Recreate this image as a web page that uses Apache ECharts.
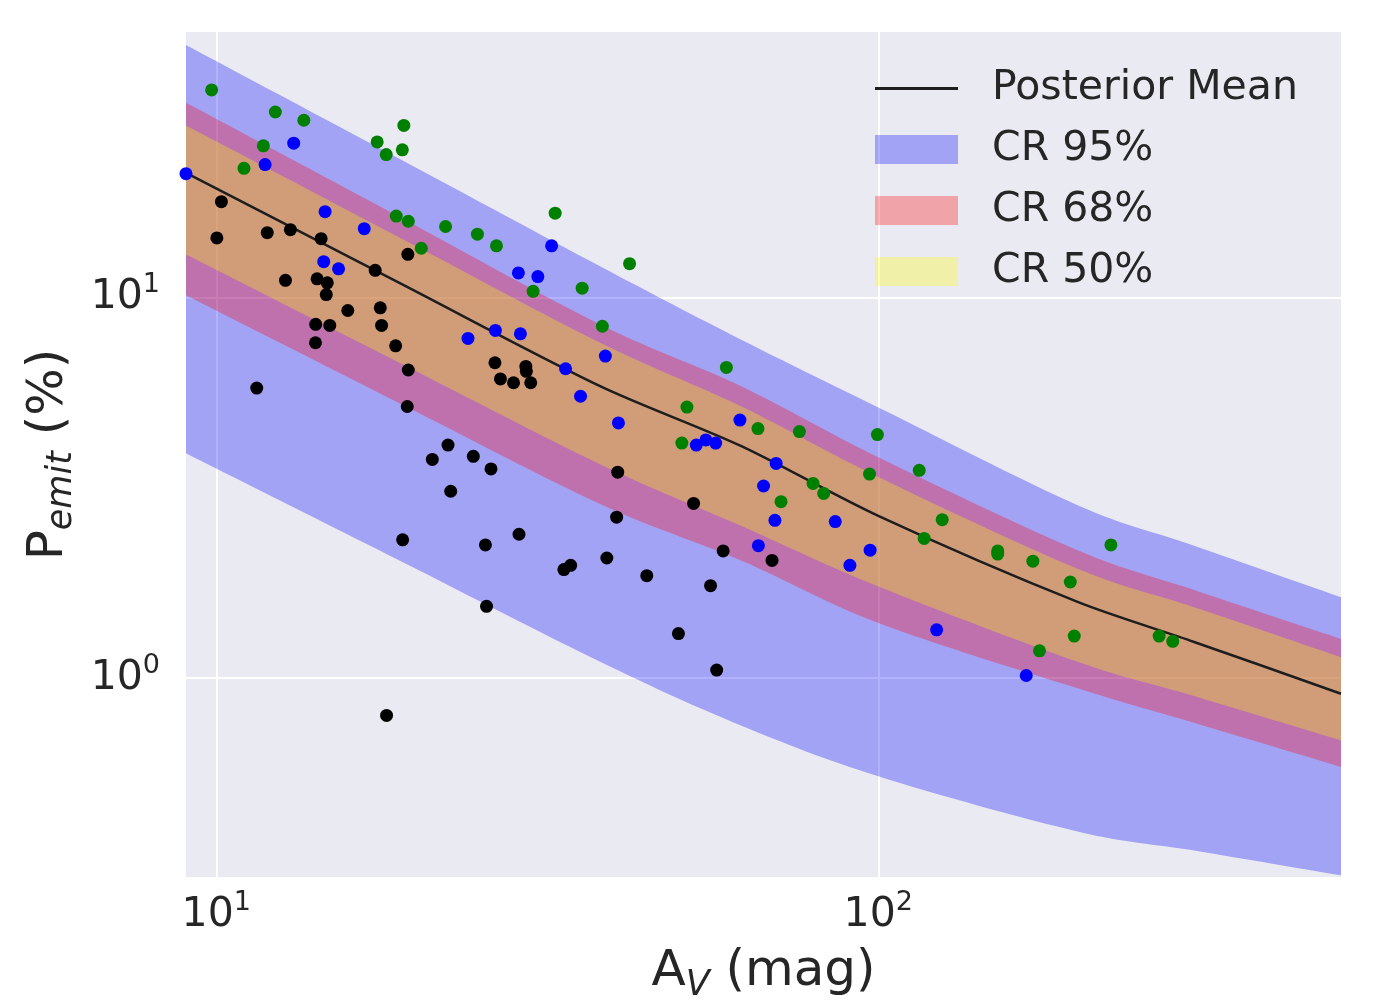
<!DOCTYPE html>
<html>
<head>
<meta charset="utf-8">
<title>Pemit vs AV</title>
<script src="https://cdn.jsdelivr.net/npm/echarts@6.0.0/dist/echarts.min.js"></script>
<style>
  html, body { margin: 0; padding: 0; background: #fff; }
  #main { width: 1380px; height: 1000px; }
</style>
</head>
<body>
<div id="main"></div>
<script>
// posterior curves, sampled along A_V (mag)
var bandAv = [9, 19, 38, 62, 100, 200, 300, 500];
var meanP  = [21.3, 10.9, 5.86, 4.08, 2.67, 1.586, 1.245, 0.910];
var cr95Lo = [3.90, 2.03, 1.104, 0.751, 0.552, 0.395, 0.352, 0.303];
var cr95Hi = [46.2, 23.1, 12.1, 7.77, 5.15, 2.85, 2.23, 1.632];
var cr68Lo = [10.16, 5.26, 2.87, 2.04, 1.397, 0.940, 0.763, 0.584];
var cr68Hi = [32.6, 16.25, 8.51, 5.86, 3.81, 2.17, 1.705, 1.268];
var cr50Lo = [13.0, 6.72, 3.65, 2.515, 1.742, 1.104, 0.897, 0.686];
var cr50Hi = [28.4, 14.35, 7.62, 5.19, 3.38, 1.94, 1.537, 1.135];

// observed sources (A_V, P_emit %)
var greenAv = [9.84, 12.28, 13.56, 11.78, 11.01, 19.2, 17.5, 19.1, 18.06, 18.7, 19.5, 20.4, 22.2, 24.8,
  26.5, 32.5, 42.1, 30.1, 35.7, 38.3, 58.96, 51.4, 65.8, 76.0, 99.7, 50.5, 97.0, 115.3, 79.7, 82.7,
  71.3, 124.9, 117.3, 151.5, 151.5, 171.2, 195.0, 197.7, 175.2, 224.6, 265.6, 278.5];
var greenP = [35.2, 30.8, 29.3, 25.1, 21.9, 28.4, 25.7, 24.5, 23.8, 16.4, 15.9, 13.5, 15.4, 14.7,
  13.7, 16.7, 12.3, 10.4, 10.6, 8.42, 6.56, 5.16, 4.53, 4.45, 4.37, 4.15, 3.44, 3.52, 3.25, 3.06,
  2.91, 2.61, 2.33, 2.16, 2.12, 2.03, 1.79, 1.29, 1.18, 2.24, 1.29, 1.25];

var blueAv = [9.0, 13.09, 11.85, 14.6, 16.73, 14.53, 15.3, 32.1, 28.6, 30.6, 24.0, 26.4, 28.8, 33.7,
  35.5, 38.7, 40.5, 61.8, 53.1, 54.9, 56.8, 70.1, 67.1, 69.8, 86.1, 97.2, 65.9, 90.6, 122.5, 167.3];
var blueP = [21.2, 25.5, 22.4, 16.85, 15.2, 12.45, 11.92, 13.7, 11.63, 11.37, 7.82, 8.21, 8.04, 6.51,
  5.51, 7.03, 4.69, 4.77, 4.10, 4.23, 4.15, 3.67, 3.20, 2.60, 2.58, 2.17, 2.23, 1.98, 1.34, 1.016];

var blackAv = [10.18, 10.02, 11.94, 12.94, 14.4, 12.72, 14.2, 14.71, 14.66, 17.38, 19.47, 15.8, 17.69,
  14.13, 14.84, 17.77, 14.12, 18.66, 19.5, 11.51, 19.43, 26.36, 29.35, 29.4, 26.87, 28.12, 29.85,
  22.39, 21.2, 24.45, 26.0, 22.6, 40.4, 40.25, 19.12, 25.5, 28.66, 33.5, 34.3, 38.9, 25.6, 18.08,
  52.6, 58.3, 69.1, 44.7, 55.8, 49.9, 57.0];
var blackP = [17.9, 14.37, 14.84, 15.11, 14.31, 11.12, 11.22, 10.95, 10.2, 11.81, 13.01, 9.26, 9.41,
  8.52, 8.46, 8.46, 7.62, 7.48, 6.46, 5.79, 5.18, 6.75, 6.60, 6.41, 6.12, 5.98, 5.98,
  4.10, 3.76, 3.83, 3.55, 3.10, 3.48, 2.65, 2.31, 2.24, 2.39, 1.93, 1.98, 2.07, 1.545, 0.798,
  2.88, 2.16, 2.04, 1.86, 1.75, 1.31, 1.05];

var txt = '#262626';
var font = 'DejaVu Sans';

function pairs(xs, ys) {
  return xs.map(function (x, i) { return [x, ys[i]]; });
}

// catmull-rom through the projected edge points, so the band edges are not angular
function curve(pts) {
  var out = [];
  var n = pts.length;
  for (var i = 0; i < n - 1; i++) {
    var p0 = pts[Math.max(i - 1, 0)], p1 = pts[i], p2 = pts[i + 1], p3 = pts[Math.min(i + 2, n - 1)];
    for (var k = 0; k < 16; k++) {
      var t = k / 16, t2 = t * t, t3 = t2 * t;
      var pt = [];
      for (var d = 0; d < 2; d++) {
        pt.push(0.5 * (2 * p1[d] + (p2[d] - p0[d]) * t +
          (2 * p0[d] - 5 * p1[d] + 4 * p2[d] - p3[d]) * t2 +
          (3 * p1[d] - p0[d] - 3 * p2[d] + p3[d]) * t3));
      }
      out.push(pt);
    }
  }
  out.push(pts[n - 1]);
  return out;
}

// shaded credible region between lo and hi
function band(name, lo, hi, color) {
  return {
    name: name,
    type: 'custom',
    itemStyle: { color: color },
    data: [[bandAv[0], hi[0]]],
    renderItem: function (params, api) {
      var top = bandAv.map(function (x, i) { return api.coord([x, hi[i]]); });
      var bot = bandAv.map(function (x, i) { return api.coord([x, lo[i]]); });
      var pts = curve(top).concat(curve(bot).reverse());
      return { type: 'polygon', shape: { points: pts }, style: { fill: color } };
    }
  };
}

function dots(xs, ys, color) {
  return {
    type: 'scatter',
    symbolSize: 13,
    itemStyle: { color: color, opacity: 1 },
    data: pairs(xs, ys),
    z: 5
  };
}

// 10^n labels
function powLabel(v) {
  var e = Math.log10(v);
  if (Math.abs(e - Math.round(e)) > 1e-6) return '';
  return '{b|10}{e|' + Math.round(e) + '}';
}
var powRich = {
  b: { fontSize: 41, fontFamily: font, color: txt, lineHeight: 52 },
  e: { fontSize: 27, fontFamily: font, color: txt, verticalAlign: 'top' }
};

var nameRich = {
  a: { fontSize: 50, fontFamily: font, color: txt, lineHeight: 62 },
  s: { fontSize: 35, fontFamily: font, color: txt, fontStyle: 'italic', verticalAlign: 'bottom' }
};

var chart = echarts.init(document.getElementById('main'));
var option = {
  animation: false,
  backgroundColor: '#ffffff',
  grid: {
    left: 186, right: 39, top: 32, bottom: 123,
    containLabel: false, outerBoundsMode: 'none',
    show: true, backgroundColor: '#EAEAF2', borderWidth: 0
  },
  legend: {
    orient: 'vertical',
    left: 875, top: 68, padding: 0,
    itemWidth: 83, itemHeight: 29, itemGap: 20,
    textStyle: { fontSize: 41, fontFamily: font, color: txt, lineHeight: 41, padding: [0, 0, 0, 29] },
    data: [
      { name: 'Posterior Mean', icon: 'path://M0,0L83,0L83,3L0,3Z' },
      { name: 'CR 95%', icon: 'rect' },
      { name: 'CR 68%', icon: 'rect' },
      { name: 'CR 50%', icon: 'rect' }
    ]
  },
  xAxis: {
    type: 'log', logBase: 10, min: 9, max: 500,
    axisLine: { show: false }, axisTick: { show: false },
    splitLine: { show: true, showMinLine: false, showMaxLine: false, lineStyle: { color: '#ffffff', width: 2 } },
    axisLabel: { formatter: powLabel, rich: powRich, margin: 12, showMinLabel: false, showMaxLabel: false },
    name: '{a|A}{s|V}{a| (mag)}',
    nameLocation: 'middle', nameGap: 64,
    nameTextStyle: { rich: nameRich }
  },
  yAxis: {
    type: 'log', logBase: 10, min: 0.3, max: 50,
    axisLine: { show: false }, axisTick: { show: false },
    splitLine: { show: true, showMinLine: false, showMaxLine: false, lineStyle: { color: '#ffffff', width: 2 } },
    axisLabel: { formatter: powLabel, rich: powRich, margin: 26, showMinLabel: false, showMaxLabel: false },
    name: '{a|P}{s|emit}{a| (%)}',
    nameLocation: 'middle', nameGap: 89, nameRotate: 90,
    nameTextStyle: { rich: nameRich }
  },
  series: [
    band('CR 95%', cr95Lo, cr95Hi, 'rgba(0,0,255,0.3)'),
    band('CR 68%', cr68Lo, cr68Hi, 'rgba(255,0,0,0.3)'),
    band('CR 50%', cr50Lo, cr50Hi, 'rgba(255,255,0,0.3)'),
    {
      name: 'Posterior Mean',
      type: 'line',
      symbol: 'none',
      smooth: 0.3,
      lineStyle: { color: '#1e1e1e', width: 2.5 },
      itemStyle: { color: '#1e1e1e' },
      data: pairs(bandAv, meanP),
      z: 4
    },
    dots(greenAv, greenP, '#008000'),
    dots(blueAv, blueP, '#0000ff'),
    dots(blackAv, blackP, '#000000')
  ]
};
chart.setOption(option);
</script>
</body>
</html>
